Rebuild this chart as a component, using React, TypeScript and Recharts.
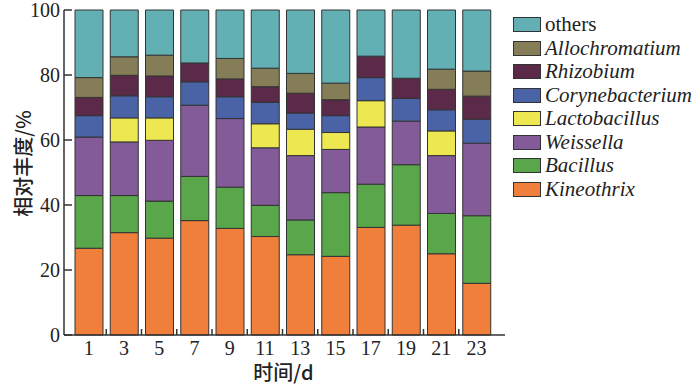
import React from 'react';
import { BarChart, Bar, XAxis, YAxis, Legend } from 'recharts';

const days = ['1', '3', '5', '7', '9', '11', '13', '15', '17', '19', '21', '23'];
const kineothrix = [26.7, 31.5, 29.8, 35.2, 32.8, 30.3, 24.7, 24.2, 33.1, 33.8, 25.0, 15.9];
const bacillus = [16.2, 11.4, 11.4, 13.6, 12.7, 9.6, 10.7, 19.6, 13.3, 18.6, 12.4, 20.8];
const weissella = [18.0, 16.5, 18.7, 21.9, 21.1, 17.7, 19.8, 13.3, 17.6, 13.4, 17.8, 22.3];
const lactobacillus = [0, 7.4, 6.9, 0, 0, 7.4, 8.1, 5.2, 8.1, 0, 7.6, 0];
const corynebacterium = [6.6, 6.8, 6.5, 7.2, 6.7, 6.6, 5.0, 5.2, 7.1, 7.0, 6.5, 7.4];
const rhizobium = [5.6, 6.3, 6.4, 5.8, 5.5, 4.8, 6.1, 4.9, 6.6, 6.2, 6.3, 7.1];
const allochromatium = [6.1, 5.7, 6.4, 0, 6.3, 5.7, 6.1, 5.1, 0, 0, 6.2, 7.7];
const others = [20.8, 14.4, 13.9, 16.3, 14.9, 17.9, 19.5, 22.5, 14.2, 21.0, 18.2, 18.8];

const yTicks = [0, 20, 40, 60, 80, 100];

const seriesKeys = ['Kineothrix', 'Bacillus', 'Weissella', 'Lactobacillus', 'Corynebacterium', 'Rhizobium', 'Allochromatium', 'others'];
const seriesValues = [kineothrix, bacillus, weissella, lactobacillus, corynebacterium, rhizobium, allochromatium, others];
const seriesColors = ['#ef7f3a', '#5aa64a', '#825b98', '#ede752', '#4a62a6', '#5b2a48', '#857d57', '#62b0b4'];

const data = days.map((d, i) => {
  const row: Record<string, any> = { day: d };
  seriesKeys.forEach((k, j) => {
    row[k] = seriesValues[j][i];
  });
  return row;
});

const W = 700;
const H = 385;
const MARGIN = { top: 10, right: 195, bottom: 0, left: 0 };
const Y_W = 64;
const X_H = 50;
const PAD_L = 7;
const PAD_R = 11;
const BAND = (W - MARGIN.left - MARGIN.right - Y_W - PAD_L - PAD_R) / days.length;

const AXIS_COLOR = '#333';
const SERIF = 'Liberation Serif';
const CJK = 'Noto Sans CJK SC';

const XTick = (props: any) => {
  const { x, y, payload, index } = props;
  return (
    <g>
      {index > 0 && (
        <line x1={x - BAND / 2} x2={x - BAND / 2} y1={y} y2={y - 6} stroke={AXIS_COLOR} strokeWidth={1.5} />
      )}
      <text x={x} y={y + 20} textAnchor="middle" style={{ fontFamily: SERIF, fontSize: 20 }} fill="#222">
        {payload.value}
      </text>
    </g>
  );
};

const YTick = (props: any) => {
  const { x, y, payload } = props;
  return (
    <g>
      <line x1={x} x2={x + 8} y1={y} y2={y} stroke={AXIS_COLOR} strokeWidth={1.5} />
      <text x={x - 4} y={y} dy="0.35em" textAnchor="end" style={{ fontFamily: SERIF, fontSize: 20 }} fill="#222">
        {payload.value}
      </text>
    </g>
  );
};

const YTitle = (props: any) => {
  const vb = props.viewBox || {};
  const cx = 22;
  const cy = (vb.y ?? 10) + (vb.height ?? 325) / 2 - 9;
  return (
    <text
      x={cx}
      y={cy}
      transform={`rotate(-90, ${cx}, ${cy})`}
      textAnchor="middle"
      dominantBaseline="central"
      style={{ fontFamily: CJK, fontSize: 20, fontWeight: 500 }}
      fill="#222"
    >
      相对丰度/%
    </text>
  );
};

const XTitle = (props: any) => {
  const vb = props.viewBox || {};
  const cx = (vb.x ?? 64) + (vb.width ?? 441) / 2 - 1;
  const cy = H - 5;
  return (
    <text x={cx} y={cy} textAnchor="middle" style={{ fontFamily: CJK, fontSize: 20, fontWeight: 500 }} fill="#222">
      时间/d
    </text>
  );
};

const legendOrder = [...seriesKeys].reverse();
const legendColors = [...seriesColors].reverse();

const LegendContent = () => (
  <div style={{ width: 190, whiteSpace: 'nowrap' }}>
    {legendOrder.map((k, i) => (
      <div key={k} style={{ display: 'flex', alignItems: 'center', height: 23.5 }}>
        <div
          style={{
            width: 26,
            height: 13,
            background: legendColors[i],
            border: '1px solid #333',
            marginRight: 4,
            flexShrink: 0,
          }}
        />
        <span
          style={{
            fontFamily: SERIF,
            fontSize: 21,
            fontStyle: k === 'others' ? 'normal' : 'italic',
            color: '#222',
            lineHeight: '23.5px',
          }}
        >
          {k}
        </span>
      </div>
    ))}
  </div>
);

export default function App() {
  return (
    <div style={{ position: 'absolute', left: 0, top: 0, width: W, height: H, background: '#fff' }}>
      <BarChart width={W} height={H} data={data} margin={MARGIN} barSize={28}>
        <XAxis
          dataKey="day"
          height={X_H}
          interval={0}
          padding={{ left: PAD_L, right: PAD_R }}
          tickSize={0}
          tickMargin={0}
          tickLine={false}
          axisLine={{ stroke: AXIS_COLOR, strokeWidth: 1.5 }}
          tick={<XTick />}
          label={XTitle}
        />
        <XAxis
          xAxisId="top"
          orientation="top"
          dataKey="day"
          height={0}
          padding={{ left: PAD_L, right: PAD_R }}
          tick={false}
          tickLine={false}
          axisLine={{ stroke: AXIS_COLOR, strokeWidth: 1.5 }}
        />
        <YAxis
          width={Y_W}
          domain={[0, 100]}
          ticks={yTicks}
          interval={0}
          tickSize={0}
          tickMargin={0}
          tickLine={false}
          axisLine={{ stroke: AXIS_COLOR, strokeWidth: 1.5 }}
          tick={<YTick />}
          label={YTitle}
        />
        <YAxis
          yAxisId="right"
          orientation="right"
          width={0}
          domain={[0, 100]}
          tick={false}
          tickLine={false}
          axisLine={{ stroke: AXIS_COLOR, strokeWidth: 1.5 }}
        />
        <Legend
          layout="vertical"
          verticalAlign="top"
          align="right"
          content={LegendContent}
          wrapperStyle={{ position: 'absolute', left: 513, top: 13, width: 0, height: 0, overflow: 'visible' }}
        />
        {seriesKeys.map((k, j) => (
          <Bar
            key={k}
            dataKey={k}
            stackId="a"
            fill={seriesColors[j]}
            stroke="#333"
            strokeWidth={1}
            isAnimationActive={false}
          />
        ))}
      </BarChart>
    </div>
  );
}
